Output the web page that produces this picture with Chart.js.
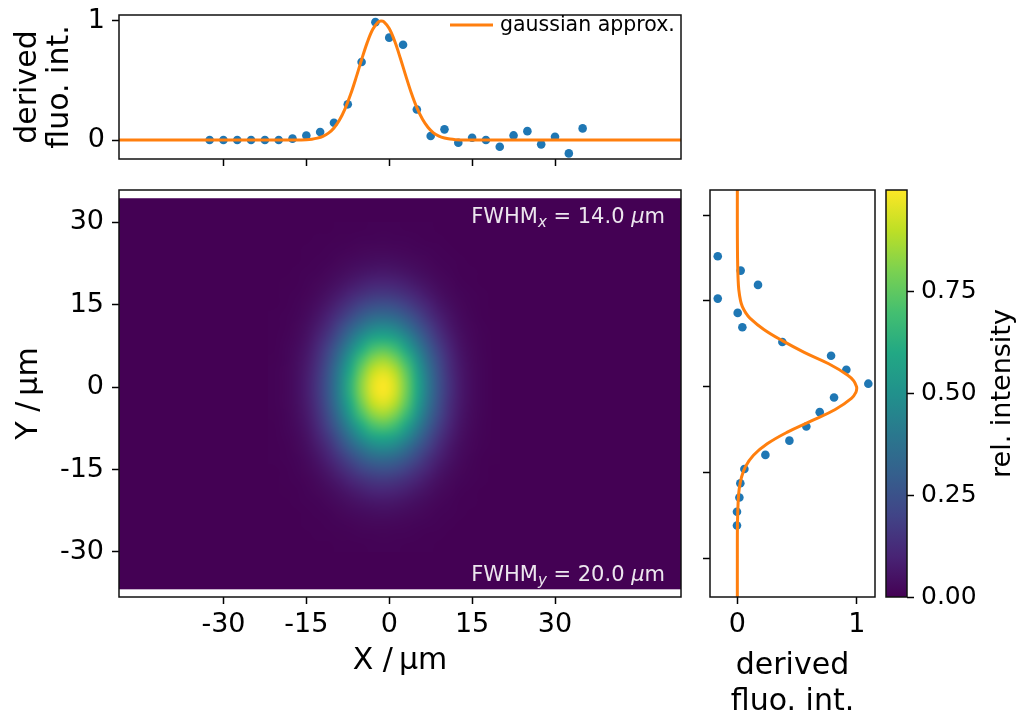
<!DOCTYPE html>
<html>
<head>
<meta charset="utf-8">
<script src="https://cdn.jsdelivr.net/npm/chart.js"></script>
<style>
  html, body { margin: 0; padding: 0; background: #fff; overflow: hidden; }
  #wrap { position: relative; width: 1016px; height: 714px; overflow: hidden; }
  #wrap canvas { position: absolute; left: 0; top: 0; }
</style>
</head>
<body>
<div id="wrap">
  <canvas id="imgChart" width="1016" height="760"></canvas>
  <canvas id="topChart" width="1016" height="760"></canvas>
  <canvas id="sideChart" width="1016" height="760"></canvas>
  <canvas id="cbarChart" width="1016" height="760"></canvas>
</div>
<script>
// ---------------------------------------------
// data
// ---------------------------------------------

// horizontal profile (top panel)
const profXPos = [-32.5, -30, -27.5, -25, -22.5, -20, -17.5, -15, -12.5, -10, -7.5, -5, -2.5, 0,
  2.5, 5, 7.5, 10, 12.5, 15, 17.5, 20, 22.5, 25, 27.5, 30, 32.5, 35];
const profXVal = [0, 0, 0, 0, 0, 0, 0.012, 0.038, 0.067, 0.145, 0.30, 0.656, 0.99, 0.86,
  0.80, 0.257, 0.034, 0.09, -0.022, 0.02, 0.0, -0.056, 0.039, 0.075, -0.036, 0.028, -0.112, 0.098];

// gaussian approx. of the horizontal profile
const fitXPos = [-48.9, -20, -17, -15, -14, -13, -12, -11, -10, -9, -8, -7, -6, -5, -4, -3, -2, -1.5,
  -1, 0, 1, 2, 3, 4, 5, 6, 7, 8, 9, 10, 11, 12, 14, 17, 52.8];
const fitXVal = [0, 0, 0.0005, 0.003, 0.007, 0.016, 0.031, 0.058, 0.102, 0.168, 0.262, 0.382, 0.524,
  0.675, 0.816, 0.928, 0.991, 1.0, 0.994, 0.936, 0.829, 0.689, 0.539, 0.395, 0.272, 0.177, 0.108,
  0.061, 0.033, 0.017, 0.008, 0.0035, 0.0005, 0, 0];

// vertical profile (right panel)
const profYPos = [22.8, 20.3, 17.8, 15.4, 12.9, 10.4, 7.8, 5.4, 2.96, 0.52, -1.9, -4.46, -6.96,
  -9.45, -11.94, -14.4, -16.9, -19.4, -21.9, -24.3];
const profYVal = [-0.164, 0.028, 0.173, -0.164, 0.003, 0.042, 0.377, 0.785, 0.913, 1.097, 0.81,
  0.69, 0.578, 0.436, 0.235, 0.059, 0.025, 0.017, -0.003, -0.003];

// gaussian approx. of the vertical profile
const fitYPos = [34.4, 28, 24, 21, 19, 17, 15, 14, 13, 12, 10, 8, 6, 4, 2, 1, 0, -0.3, -1, -2, -4, -6,
  -8, -10, -12, -14, -16, -18, -20, -24, -30, -36.8];
const fitYVal = [0, 0, 0.001, 0.003, 0.006, 0.012, 0.027, 0.042, 0.068, 0.105, 0.222, 0.38, 0.56,
  0.765, 0.925, 0.975, 0.998, 1.0, 0.993, 0.958, 0.82, 0.62, 0.415, 0.25, 0.135, 0.068, 0.033, 0.015,
  0.007, 0.001, 0, 0];

// image: separable gaussian spot, sampled on a 2 µm grid
const imgXCenters = [-21, -19, -17, -15, -13, -11, -9, -7, -5, -3, -1, 1, 3, 5, 7, 9, 11, 13, 15, 17, 19];
const imgXProfile = [0.0053, 0.0145, 0.0355, 0.078, 0.156, 0.277, 0.444, 0.638, 0.825, 0.958, 0.999,
  0.937, 0.790, 0.598, 0.407, 0.249, 0.137, 0.067, 0.030, 0.012, 0.0043];
const imgYCenters = [-29, -27, -25, -23, -21, -19, -17, -15, -13, -11, -9, -7, -5, -3, -1,
  1, 3, 5, 7, 9, 11, 13, 15, 17, 19, 21, 23, 25, 27, 29];
const imgYProfile = [0.005, 0.0102, 0.0196, 0.0358, 0.0625, 0.103, 0.162, 0.243, 0.345, 0.467, 0.601,
  0.735, 0.855, 0.945, 0.994, 0.994, 0.945, 0.855, 0.735, 0.601, 0.467, 0.345, 0.243, 0.162, 0.103,
  0.0625, 0.0358, 0.0196, 0.0102, 0.005];

const fwhmX = '14.0';
const fwhmY = '20.0';

// ticks
const xTicks = [-30, -15, 0, 15, 30];
const yTicks = [30, 15, 0, -15, -30];
const profTicks = [0, 1];
const cbarTicks = [0, 0.25, 0.5, 0.75];

// axis limits
const xMin = -48.9, xMax = 52.8;
const imgYMin = -36.8, imgYMax = 34.4;
const mainYMin = -38.2, mainYMax = 35.9;
const topYMin = -0.159, topYMax = 1.05;
const sideXMin = -0.229, sideXMax = 1.153;
const cbarMax = 0.999;

// ---------------------------------------------
// helpers
// ---------------------------------------------
const BLUE = '#1f77b4';
const ORANGE = '#ff7f0e';
const FONT = "'DejaVu Sans', sans-serif";

Chart.defaults.font.family = FONT;
Chart.defaults.color = '#000';
Chart.defaults.animation = false;
Chart.defaults.plugins.legend.display = false;
Chart.defaults.plugins.tooltip.enabled = false;

const viridisStops = ['#440154', '#482475', '#414487', '#355f8d', '#2a788e', '#21918c',
  '#22a884', '#44bf70', '#7ad151', '#bddf26', '#fde725'];
const viridisRgb = viridisStops.map(h => [1, 3, 5].map(k => parseInt(h.substr(k, 2), 16)));

function viridis(t) {
  t = Math.min(1, Math.max(0, t));
  const p = t * (viridisRgb.length - 1);
  const i = Math.min(Math.floor(p), viridisRgb.length - 2);
  const f = p - i;
  const a = viridisRgb[i], b = viridisRgb[i + 1];
  return [0, 1, 2].map(k => Math.round(a[k] + (b[k] - a[k]) * f));
}
const rgbStr = c => `rgb(${c[0]},${c[1]},${c[2]})`;

// fixed axis box size so every chart area lands where the reference has it
function fixSize(size) {
  return (scale) => {
    if (scale.isHorizontal()) scale.height = size;
    else scale.width = size;
    scale.paddingLeft = scale.paddingRight = scale.paddingTop = scale.paddingBottom = 0;
  };
}
function setTicks(values) {
  return (scale) => { scale.ticks = values.map(v => ({ value: v })); };
}
const tickGrid = {
  display: true, drawOnChartArea: false, drawTicks: true,
  tickLength: 7, tickWidth: 1.5, tickColor: '#000'
};
const pts = (xs, ys) => xs.map((x, i) => ({ x, y: ys[i] }));

// frame round the chart area (matplotlib spines)
const framePlugin = {
  id: 'frame',
  afterDraw(chart) {
    const { ctx, chartArea: a } = chart;
    ctx.save();
    ctx.strokeStyle = '#111';
    ctx.lineWidth = 1.5;
    ctx.strokeRect(a.left, a.top, a.right - a.left, a.bottom - a.top);
    ctx.restore();
  }
};
Chart.register(framePlugin);

// ---------------------------------------------
// main image
// ---------------------------------------------
function drawFwhm(ctx, right, baseline, sub, value) {
  const parts = [
    { t: 'FWHM', f: `21px ${FONT}`, dy: 0 },
    { t: sub, f: `italic 15px ${FONT}`, dy: 4 },
    { t: ` = ${value} `, f: `21px ${FONT}`, dy: 0 },
    { t: 'µ', f: `italic 21px ${FONT}`, dy: 0 },
    { t: 'm', f: `21px ${FONT}`, dy: 0 }
  ];
  let w = 0;
  parts.forEach(p => { ctx.font = p.f; p.w = ctx.measureText(p.t).width; w += p.w; });
  let x = right - w;
  ctx.fillStyle = 'rgba(255,255,255,0.9)';
  ctx.textBaseline = 'alphabetic';
  ctx.textAlign = 'left';
  parts.forEach(p => { ctx.font = p.f; ctx.fillText(p.t, x, baseline + p.dy); x += p.w; });
}

const heatmapPlugin = {
  id: 'heatmap',
  beforeDatasetsDraw(chart) {
    const { ctx, chartArea: a, scales: { x, y } } = chart;
    ctx.save();
    ctx.beginPath();
    ctx.rect(a.left, a.top, a.right - a.left, a.bottom - a.top);
    ctx.clip();

    // value 0 everywhere in the image extent
    const left = x.getPixelForValue(xMin), right = x.getPixelForValue(xMax);
    const top = y.getPixelForValue(imgYMax), bottom = y.getPixelForValue(imgYMin);
    ctx.fillStyle = rgbStr(viridis(0));
    ctx.fillRect(left, top, right - left, bottom - top);

    // spot, one pixel per cell, then scaled up smoothly
    const nx = imgXCenters.length, ny = imgYCenters.length;
    const off = document.createElement('canvas');
    off.width = nx; off.height = ny;
    const octx = off.getContext('2d');
    const img = octx.createImageData(nx, ny);
    for (let j = 0; j < ny; j++) {
      const yi = ny - 1 - j;
      for (let i = 0; i < nx; i++) {
        const c = viridis(imgXProfile[i] * imgYProfile[yi] / cbarMax);
        const k = (j * nx + i) * 4;
        img.data[k] = c[0]; img.data[k + 1] = c[1]; img.data[k + 2] = c[2]; img.data[k + 3] = 255;
      }
    }
    octx.putImageData(img, 0, 0);
    const dx = imgXCenters[1] - imgXCenters[0];
    const dy = imgYCenters[1] - imgYCenters[0];
    const x0 = x.getPixelForValue(imgXCenters[0] - dx / 2);
    const x1 = x.getPixelForValue(imgXCenters[nx - 1] + dx / 2);
    const y0 = y.getPixelForValue(imgYCenters[ny - 1] + dy / 2);
    const y1 = y.getPixelForValue(imgYCenters[0] - dy / 2);
    ctx.imageSmoothingEnabled = true;
    ctx.imageSmoothingQuality = 'high';
    ctx.drawImage(off, x0, y0, x1 - x0, y1 - y0);
    ctx.restore();
  },
  afterDraw(chart) {
    const { ctx, chartArea: a } = chart;
    ctx.save();
    drawFwhm(ctx, a.right - 16, a.top + 32.7, 'x', fwhmX);
    drawFwhm(ctx, a.right - 16, a.bottom - 16.5, 'y', fwhmY);
    ctx.restore();
  }
};

new Chart(document.getElementById('imgChart'), {
  type: 'scatter',
  data: { datasets: [] },
  options: {
    responsive: false,
    devicePixelRatio: 1,
    layout: { padding: { left: 10.5, top: 190, right: 335, bottom: 82.5 } },
    scales: {
      x: {
        type: 'linear', min: xMin, max: xMax,
        afterBuildTicks: setTicks(xTicks), afterFit: fixSize(80.5),
        ticks: { font: { size: 27 }, padding: 5, callback: v => String(v) },
        grid: tickGrid, border: { display: false },
        title: { display: true, text: 'X /\u2009µm', font: { size: 30, lineHeight: 1.1 }, padding: 0 }
      },
      y: {
        type: 'linear', min: mainYMin, max: mainYMax,
        afterBuildTicks: setTicks(yTicks), afterFit: fixSize(108.5),
        ticks: { font: { size: 27 }, padding: 8, callback: v => String(v) },
        grid: tickGrid, border: { display: false },
        title: { display: true, text: 'Y /\u2009µm', font: { size: 30, lineHeight: 1.1 }, padding: { top: 2, bottom: 0 } }
      }
    }
  },
  plugins: [heatmapPlugin]
});

// ---------------------------------------------
// top profile
// ---------------------------------------------
const fitLegendPlugin = {
  id: 'fitLegend',
  afterDraw(chart) {
    const { ctx, chartArea: a } = chart;
    ctx.save();
    ctx.strokeStyle = ORANGE;
    ctx.lineWidth = 3;
    ctx.beginPath();
    ctx.moveTo(a.right - 231, a.top + 10);
    ctx.lineTo(a.right - 188, a.top + 10);
    ctx.stroke();
    ctx.fillStyle = '#000';
    ctx.font = `20.5px ${FONT}`;
    ctx.textBaseline = 'middle';
    ctx.textAlign = 'left';
    ctx.fillText('gaussian approx.', a.right - 181, a.top + 11);
    ctx.restore();
  }
};

new Chart(document.getElementById('topChart'), {
  type: 'scatter',
  data: {
    datasets: [
      {
        label: 'gaussian approx.',
        data: pts(fitXPos, fitXVal),
        showLine: true, tension: 0.35,
        borderColor: ORANGE, borderWidth: 3, pointRadius: 0
      },
      {
        label: 'profile',
        data: pts(profXPos, profXVal),
        pointRadius: 4.3, pointBackgroundColor: BLUE, pointBorderWidth: 0
      }
    ]
  },
  options: {
    responsive: false,
    devicePixelRatio: 1,
    layout: { padding: { left: 12.75, top: 15, right: 335, bottom: 591 } },
    scales: {
      x: {
        type: 'linear', min: xMin, max: xMax,
        afterBuildTicks: setTicks(xTicks), afterFit: fixSize(10),
        ticks: { display: false },
        grid: tickGrid, border: { display: false }
      },
      y: {
        type: 'linear', min: topYMin, max: topYMax,
        afterBuildTicks: setTicks(profTicks), afterFit: fixSize(106.25),
        ticks: { font: { size: 27 }, padding: 7, callback: v => String(v) },
        grid: tickGrid, border: { display: false },
        title: { display: true, text: ['derived', 'fluo. int.'], font: { size: 30, lineHeight: 1.05 }, padding: 0 }
      }
    }
  },
  plugins: [fitLegendPlugin]
});

// ---------------------------------------------
// side profile
// ---------------------------------------------
new Chart(document.getElementById('sideChart'), {
  type: 'scatter',
  data: {
    datasets: [
      {
        label: 'gaussian approx.',
        data: pts(fitYVal, fitYPos),
        showLine: true, tension: 0.4,
        borderColor: ORANGE, borderWidth: 3, pointRadius: 0
      },
      {
        label: 'profile',
        data: pts(profYVal, profYPos),
        pointRadius: 4.3, pointBackgroundColor: BLUE, pointBorderWidth: 0
      }
    ]
  },
  options: {
    responsive: false,
    devicePixelRatio: 1,
    layout: { padding: { left: 700, top: 190, right: 141, bottom: 40 } },
    scales: {
      x: {
        type: 'linear', min: sideXMin, max: sideXMax,
        afterBuildTicks: setTicks(profTicks), afterFit: fixSize(123),
        ticks: { font: { size: 27 }, padding: 5, callback: v => String(v) },
        grid: tickGrid, border: { display: false },
        title: { display: true, text: ['derived', 'fluo. int.'], font: { size: 30, lineHeight: 1.2 }, padding: 0 }
      },
      y: {
        type: 'linear', min: imgYMin, max: imgYMax,
        afterBuildTicks: setTicks(yTicks), afterFit: fixSize(10),
        ticks: { display: false },
        grid: tickGrid, border: { display: false }
      }
    }
  }
});

// ---------------------------------------------
// colorbar
// ---------------------------------------------
const colorbarPlugin = {
  id: 'colorbar',
  beforeDatasetsDraw(chart) {
    const { ctx, chartArea: a, scales: { y } } = chart;
    const p0 = y.getPixelForValue(0), p1 = y.getPixelForValue(cbarMax);
    const grad = ctx.createLinearGradient(0, p0, 0, p1);
    viridisStops.forEach((c, i) => grad.addColorStop(i / (viridisStops.length - 1), c));
    ctx.save();
    ctx.fillStyle = grad;
    ctx.fillRect(a.left, p1, a.right - a.left, p0 - p1);
    ctx.restore();
  },
  afterDraw(chart) {
    const { ctx, chartArea: a } = chart;
    ctx.save();
    ctx.translate(1003, (a.top + a.bottom) / 2);
    ctx.rotate(-Math.PI / 2);
    ctx.fillStyle = '#000';
    ctx.font = `27px ${FONT}`;
    ctx.textAlign = 'center';
    ctx.textBaseline = 'middle';
    ctx.fillText('rel. intensity', 0, 0);
    ctx.restore();
  }
};

new Chart(document.getElementById('cbarChart'), {
  type: 'scatter',
  data: { datasets: [] },
  options: {
    responsive: false,
    devicePixelRatio: 1,
    layout: { padding: { left: 886, top: 190, right: 19, bottom: 163 } },
    scales: {
      x: { type: 'linear', display: false, min: 0, max: 1 },
      y: {
        type: 'linear', position: 'right', min: 0, max: cbarMax,
        afterBuildTicks: setTicks(cbarTicks), afterFit: fixSize(90),
        ticks: { font: { size: 25 }, padding: 7, callback: v => v.toFixed(2) },
        grid: tickGrid, border: { display: false }
      }
    }
  },
  plugins: [colorbarPlugin]
});
</script>
</body>
</html>
